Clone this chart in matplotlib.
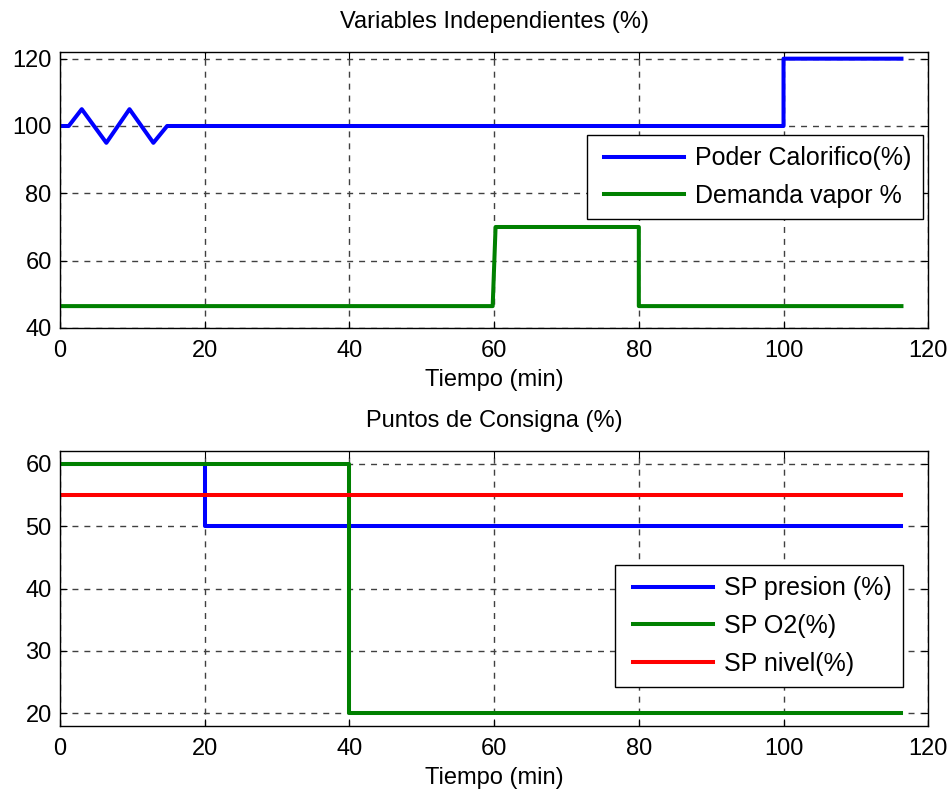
import matplotlib
matplotlib.use("Agg")
import matplotlib.pyplot as plt
from matplotlib.lines import Line2D
from matplotlib.legend_handler import HandlerLine2D

plt.rcParams['font.family'] = ['Liberation Sans', 'DejaVu Sans']

# --- datos ---
t_poder = [0, 1.2, 3.0, 6.4, 9.6, 12.9, 14.8, 100, 100, 116.3]
poder = [100, 100, 105, 95, 105, 95, 100, 100, 120, 120]

t_demanda = [0, 59.8, 60.2, 80, 80, 116.3]
demanda = [46.5, 46.5, 70, 70, 46.5, 46.5]

t_presion = [0, 20, 20, 116.3]
sp_presion = [60, 60, 50, 50]

t_o2 = [0, 40, 40, 116.3]
sp_o2 = [60, 60, 20, 20]

t_nivel = [0, 116.3]
sp_nivel = [55, 55]

xticks = [0, 20, 40, 60, 80, 100, 120]
yticks_top = [40, 60, 80, 100, 120]
yticks_bot = [20, 30, 40, 50, 60]

FS = 17
LW = 2.9


def estilo(ax):
    ax.set_xlim(0, 120)
    ax.set_xticks(xticks)
    ax.grid(True, color='0.25', linestyle=(0, (4.3, 4.3)), linewidth=1.0)
    ax.tick_params(direction='in', top=True, right=True, labelsize=FS, length=5)
    ax.tick_params(axis='x', pad=9)
    ax.tick_params(axis='y', pad=6)
    for s in ax.spines.values():
        s.set_linewidth(1.0)
    ax.set_xlabel('Tiempo (min)', fontsize=FS, labelpad=5)


def leyenda(ax, ancla):
    # linea de la leyenda un poco separada del borde, como en MATLAB
    leg = ax.legend(loc='upper right', bbox_to_anchor=ancla, fontsize=18,
                    fancybox=False, edgecolor='black', framealpha=1,
                    handlelength=3.45, handletextpad=0.45, borderpad=0.45,
                    labelspacing=0.55, borderaxespad=0,
                    handler_map={Line2D: HandlerLine2D(xpad=0.25)})
    leg.get_frame().set_linewidth(1.0)
    return leg


fig = plt.figure(figsize=(9.53, 7.99), dpi=100)
ax1 = fig.add_axes([0.063, 0.5895, 0.911, 0.3455])
ax2 = fig.add_axes([0.063, 0.0914, 0.911, 0.3441])

# --- Variables independientes ---
ax1.plot(t_poder, poder, color='#0000ff', lw=LW, label='Poder Calorifico(%)')
ax1.plot(t_demanda, demanda, color='#008000', lw=LW, label='Demanda vapor %')
ax1.set_ylim(40, 122)
ax1.set_yticks(yticks_top)
estilo(ax1)
ax1.set_title('Variables Independientes (%)', fontsize=FS, pad=17)
leyenda(ax1, (0.994, 0.699))

# --- Puntos de consigna ---
ax2.plot(t_presion, sp_presion, color='#0000ff', lw=LW, label='SP presion (%)')
ax2.plot(t_o2, sp_o2, color='#008000', lw=LW, label='SP O2(%)')
ax2.plot(t_nivel, sp_nivel, color='#ff0000', lw=LW, label='SP nivel(%)')
ax2.set_ylim(18, 62)
ax2.set_yticks(yticks_bot)
estilo(ax2)
ax2.set_title('Puntos de Consigna (%)', fontsize=FS, pad=17)
leyenda(ax2, (0.971, 0.585))

fig.savefig('out.png', dpi=100)
